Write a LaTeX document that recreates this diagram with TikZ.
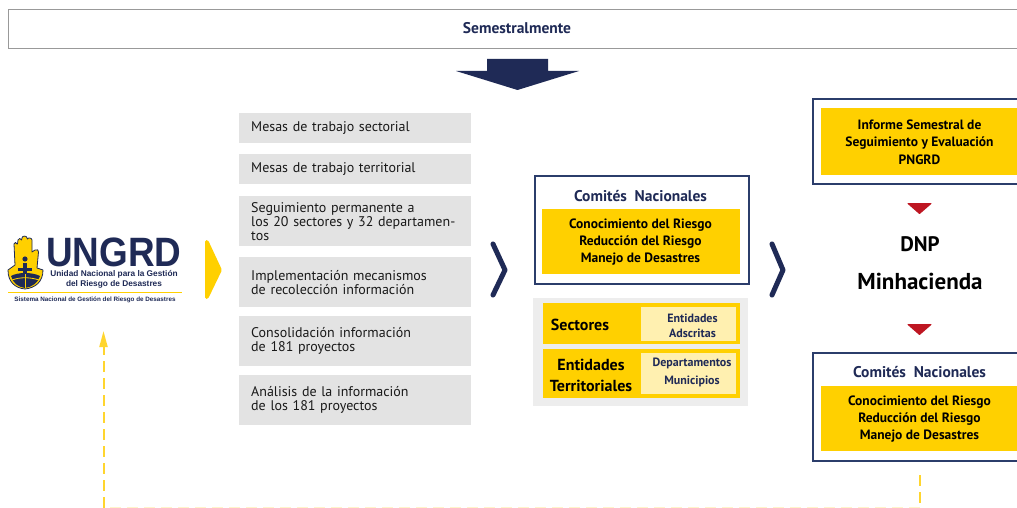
\documentclass[tikz,border=0pt]{standalone}
\usepackage{fontspec}
\setmainfont{PT Sans}
\newfontfamily\logofont{Liberation Sans}
\usetikzlibrary{arrows.meta}
\definecolor{navy}{HTML}{1F2A56}
\definecolor{frameblue}{HTML}{2B3D6B}
\definecolor{gold}{HTML}{FFD000}
\definecolor{cream}{HTML}{FFF0B0}
\definecolor{crimson}{HTML}{BE1622}
\definecolor{greybox}{HTML}{E3E3E3}
\definecolor{greypanel}{HTML}{EDEDED}
\definecolor{dashgold}{HTML}{FFD52E}
\newcommand{\fs}[1]{\fontsize{#1}{#1}\selectfont}
\tikzset{
  x=1pt,y=-1pt,
  anchor=center,
  greyitem/.style={fill=greybox,minimum width=232pt,inner xsep=12pt,inner ysep=0pt,text width=208pt,align=left,font=\fs{14},text=black!90,anchor=north west},
  frameitem/.style={draw=frameblue,line width=2pt,fill=white,anchor=north west,inner sep=0pt},
  goldbox/.style={fill=gold,anchor=north west,inner sep=0pt},
  creambox/.style={fill=cream,anchor=north west,inner sep=0pt},
  boldline/.style={font=\fs{13.5}\bfseries,text=black,inner sep=0pt},
  titletext/.style={font=\fs{15.5}\bfseries,text=navy,inner sep=0pt},
  smallnavy/.style={font=\fs{12}\bfseries,text=navy,inner sep=0pt},
  labelblack/.style={font=\fs{16}\bfseries,text=black,inner sep=0pt},
  chev/.style={draw=navy,line width=5pt,line cap=round,line join=round},
  dashline/.style={draw=dashgold,line width=2pt,dash pattern=on 11pt off 6pt},
  redtri/.style={fill=crimson,draw=crimson,line width=1pt,line join=round},
}
\begin{document}
\begin{tikzpicture}
\useasboundingbox (0,0) rectangle (1017,508);
\fill[white] (0,0) rectangle (1017,508);
% top band
\node[draw=black!40,line width=1pt,fill=white,minimum width=1020pt,minimum height=39pt,inner sep=0pt,anchor=north west] (band) at (8,9) {};
\node[font=\fs{15.5}\bfseries,text=navy,inner sep=0pt] (semes) at (517,28) {Semestralmente};
\fill[navy] (487,59) -- (548,59) -- (548,71) -- (579,71) -- (517.5,90) -- (456,71) -- (487,71) -- cycle;
% grey items
\node[greyitem,minimum height=30pt] (g1) at (239,113) {Mesas de trabajo sectorial};
\node[greyitem,minimum height=30pt] (g2) at (239,154) {Mesas de trabajo territorial};
\node[greyitem,minimum height=50pt] (g3) at (239,196) {\baselineskip=18pt Seguimiento permanente a\\los 20 sectores y 32 departamentos};
\node[greyitem,minimum height=50pt] (g4) at (239,257) {\baselineskip=18pt Implementación mecanismos\\de recolección información};
\node[greyitem,minimum height=50pt] (g5) at (239,316) {\baselineskip=18pt Consolidación información\\de 181 proyectos};
\node[greyitem,minimum height=50pt] (g6) at (239,375) {\baselineskip=18pt Análisis de la información\\de los 181 proyectos};
% chevrons
\fill[gold,rounded corners=1.5pt] (205,240) -- (208,240) -- (222,270) -- (208,299) -- (205,299) -- cycle;
\draw[chev] (493,244) -- (505,270) -- (493,295);
\draw[chev] (772,244) -- (783,270) -- (772,295);
% central
\node[frameitem,minimum width=214pt,minimum height=108pt] (c1) at (533.5,174.5) {};
\node[goldbox,minimum width=198pt,minimum height=65pt] (c1y) at (542,209) {};
\node[titletext] (c1t) at (640.5,196) {Comités\ \ Nacionales};
\node[boldline] (c1a) at (640.5,225) {Conocimiento del Riesgo};
\node[boldline] (c1b) at (640.5,242) {Reducción del Riesgo};
\node[boldline] (c1c) at (640.5,259.5) {Manejo de Desastres};
\node[fill=greypanel,minimum width=215pt,minimum height=108pt,anchor=north west,inner sep=0pt] (panel) at (533,298) {};
\node[goldbox,minimum width=197pt,minimum height=41pt] (s1) at (543,303) {};
\node[creambox,minimum width=95pt,minimum height=34pt] (s1c) at (641,307) {};
\node[labelblack] (s1t) at (580,325) {Sectores};
\node[smallnavy] (s1a) at (692.5,318) {Entidades};
\node[smallnavy] (s1b) at (692.5,333) {Adscritas};
\node[goldbox,minimum width=197pt,minimum height=49pt] (s2) at (543,349) {};
\node[creambox,minimum width=95pt,minimum height=41pt] (s2c) at (641,353) {};
\node[labelblack] (s2t) at (591,365) {Entidades};
\node[labelblack] (s2u) at (591,386) {Territoriales};
\node[smallnavy] (s2a) at (692,363) {Departamentos};
\node[smallnavy] (s2b) at (692,381) {Municipios};
% right column
\node[frameitem,minimum width=220pt,minimum height=84pt] (r1) at (812,98.5) {};
\node[goldbox,minimum width=200pt,minimum height=67pt] (r1y) at (821,108) {};
\node[boldline] (r1a) at (919.5,125) {Informe Semestral de};
\node[boldline] (r1b) at (919.5,143) {Seguimiento y Evaluación};
\node[boldline] (r1c) at (919.5,160) {PNGRD};
\draw[redtri] (908,203.5) -- (931,203.5) -- (919.5,213.5) -- cycle;
\node[font=\fs{21}\bfseries,text=black,inner sep=0pt] (dnp) at (920,244) {DNP};
\node[font=\fs{23}\bfseries,text=black,inner sep=0pt] (minh) at (920,281) {Minhacienda};
\draw[redtri] (908,324.5) -- (931,324.5) -- (919.5,334.5) -- cycle;
\node[frameitem,minimum width=220pt,minimum height=108pt] (r3) at (812,351.5) {};
\node[goldbox,minimum width=200pt,minimum height=65pt] (r3y) at (821,386) {};
\node[titletext] (r3t) at (919.5,372) {Comités\ \ Nacionales};
\node[boldline] (r3a) at (919.5,402) {Conocimiento del Riesgo};
\node[boldline] (r3b) at (919.5,419) {Reducción del Riesgo};
\node[boldline] (r3c) at (919.5,436.5) {Manejo de Desastres};
% logo
\fill[gold,draw=navy,line width=.8pt,line join=round] (15,265) -- (14,244) .. controls (14,242) and (17,242) .. (17,244) -- (17.5,244) -- (18,240) .. controls (18,238) and (21.5,238) .. (21.5,240) -- (22,238) .. controls (22,235.5) and (27,235.5) .. (27,238) -- (27.5,239) .. controls (27.5,237.5) and (32,237.5) .. (32,240) -- (32,252) -- (35,250) .. controls (37,249) and (39,250) .. (38.5,252) -- (37,268) -- (43,270) .. controls (43,282) and (35,288) .. (25,289) .. controls (15,288) and (8,282) .. (8,270) -- cycle;
\fill[navy] (25,259) circle (2.6pt);
\fill[navy] (23,263) rectangle (27,275);
\fill[navy] (18,268) rectangle (32,271);
\fill[navy] (11,276) .. controls (18,272) and (32,272) .. (40,276) .. controls (38,283) and (32,287) .. (25,288) .. controls (18,287) and (13,283) .. (11,276) -- cycle;
\draw[gold,line width=.8pt] (12,280) .. controls (20,277) and (30,277) .. (39,280);
\draw[gold,line width=.8pt] (25,274) -- (25,288);
\node[font=\logofont\fs{41}\bfseries,text=navy,inner sep=0pt,xscale=.9,transform shape] (ungrd) at (114,252.5) {UNGRD};
\node[font=\logofont\fs{8.3}\bfseries,text=navy,inner sep=0pt] (l1) at (114,274.5) {Unidad Nacional para la Gestión};
\node[font=\logofont\fs{8.3}\bfseries,text=navy,inner sep=0pt] (l2) at (114,284) {del Riesgo de Desastres};
\draw[gold,line width=1pt] (8,292.5) -- (182,292.5);
\node[font=\logofont\fs{6.3}\bfseries,text=navy,inner sep=0pt] (l3) at (95,299.5) {Sistema Nacional de Gestión del Riesgo de Desastres};
% return connector
\coordinate (rb) at (919.5,475);
\coordinate (rc) at (919.5,507.5);
\coordinate (lc) at (103.5,507.5);
\coordinate (lt) at (103.5,331);
\draw[dashline] (rb) -- (rc);
\draw[draw=dashgold!25,line width=1pt,dash pattern=on 11pt off 6pt] (rc) -- (lc);
\draw[dashline,-{Stealth[length=16pt,width=8pt,inset=0pt]}] (lc) -- (lt);
\end{tikzpicture}
\end{document}
